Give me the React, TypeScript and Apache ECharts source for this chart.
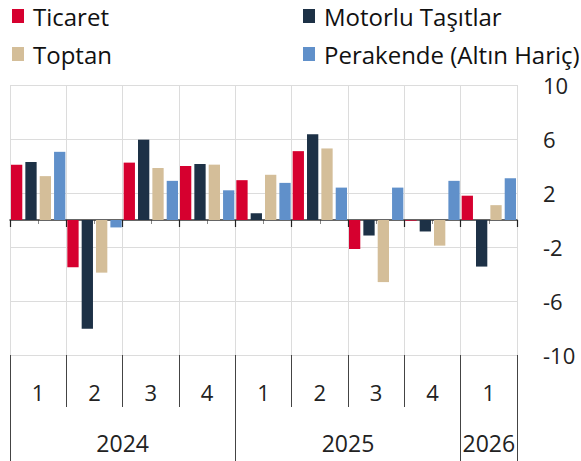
import React, { useEffect, useRef } from "react";
import * as echarts from "echarts";

const quarters = ["1", "2", "3", "4", "1", "2", "3", "4", "1"];
const years = ["2024", "2025", "2026"];
const quartersPerYear = [4, 4, 1];

const ticaret = [4.1, -3.5, 4.25, 4.0, 2.95, 5.1, -2.15, -0.05, 1.8];
const motorlu = [4.3, -8.05, 5.95, 4.15, 0.5, 6.35, -1.15, -0.85, -3.45];
const toptan = [3.25, -3.9, 3.85, 4.1, 3.35, 5.3, -4.6, -1.9, 1.1];
const perakende = [5.05, -0.55, 2.9, 2.2, 2.75, 2.4, 2.4, 2.9, 3.1];

const seriesNames = ["Ticaret", "Motorlu Taşıtlar", "Toptan", "Perakende (Altın Hariç)"];
const seriesColors = ["#D6002F", "#1D3146", "#D4BE99", "#6090CA"];

export default function App() {
  const ref = useRef<HTMLDivElement>(null);
  useEffect(() => {
    if (!ref.current) return;
    const chart = echarts.init(ref.current, null, { renderer: "svg" });

    const yearBounds: number[] = [0];
    const yearCenters: number[] = [];
    let acc = 0;
    quartersPerYear.forEach((n) => {
      yearCenters.push(acc + n / 2);
      acc += n;
      yearBounds.push(acc);
    });

    const halfCats = Array.from({ length: quarters.length * 2 }, (_, i) => "h" + i);
    const font = "Open Sans";
    const dataSets = [ticaret, motorlu, toptan, perakende];

    const legendText = { fontSize: 24, lineHeight: 22, color: "#111", fontFamily: font, padding: [0, 0, 0, 4] };

    chart.setOption({
      animation: false,
      textStyle: { fontFamily: font },
      legend: [
        {
          data: [seriesNames[0], seriesNames[2]],
          orient: "vertical",
          left: 12,
          top: 4,
          padding: 0,
          icon: "rect",
          itemWidth: 12,
          itemHeight: 14,
          itemGap: 14,
          textStyle: legendText,
        },
        {
          data: [seriesNames[1], seriesNames[3]],
          orient: "vertical",
          left: 303,
          top: 4,
          padding: 0,
          icon: "rect",
          itemWidth: 12,
          itemHeight: 14,
          itemGap: 14,
          textStyle: legendText,
        },
      ],
      grid: { left: 10, right: 64, top: 85, bottom: 106, containLabel: false, outerBoundsMode: "none" },
      xAxis: [
        {
          type: "category",
          data: quarters,
          position: "bottom",
          axisLine: { show: true, onZero: true, lineStyle: { color: "#333", width: 1.5 } },
          axisTick: { show: true, length: 7, lineStyle: { color: "#222", width: 1.2 } },
          axisLabel: { show: false },
          splitLine: { show: true, lineStyle: { color: "#dcdcdc", width: 1 } },
          z: 1,
        },
        {
          type: "category",
          data: halfCats,
          position: "bottom",
          axisLine: { show: false, onZero: true, onZeroAxisIndex: 0 },
          axisTick: {
            show: true,
            length: 4,
            interval: (i: number) => i % 2 === 1,
            lineStyle: { color: "#888", width: 1 },
          },
          axisLabel: { show: false },
          splitLine: { show: false },
        },
        {
          type: "category",
          data: quarters,
          position: "bottom",
          axisLine: { show: false, onZero: false },
          axisTick: { show: true, length: 52, lineStyle: { color: "#444", width: 1 } },
          axisLabel: { show: true, fontSize: 22, color: "#222", margin: 26, fontFamily: font },
          splitLine: { show: false },
        },
        {
          type: "value",
          min: 0,
          max: quarters.length,
          position: "bottom",
          axisLine: { show: false, onZero: false },
          axisTick: { show: true, length: 106, customValues: yearBounds, lineStyle: { color: "#444", width: 1 } },
          axisLabel: {
            show: true,
            fontSize: 23,
            color: "#222",
            margin: 76,
            fontFamily: font,
            customValues: yearCenters,
            formatter: (v: number) => {
              const idx = yearCenters.findIndex((c) => Math.abs(c - v) < 1e-6);
              return idx >= 0 ? years[idx] : "";
            },
          },
          splitLine: { show: false },
        },
      ],
      yAxis: {
        type: "value",
        position: "right",
        min: -10,
        max: 10,
        interval: 4,
        axisLine: { show: false },
        axisTick: { show: false },
        axisLabel: { fontSize: 22, lineHeight: 18, color: "#222", margin: 26, fontFamily: font },
        splitLine: { show: true, lineStyle: { color: "#dcdcdc", width: 1 } },
      },
      series: dataSets.map((d, i) => ({
        name: seriesNames[i],
        type: "bar",
        xAxisIndex: 0,
        data: d,
        barWidth: 11.3,
        barGap: "27%",
        itemStyle: { color: seriesColors[i] },
        z: 2,
      })),
    });
    return () => chart.dispose();
  }, []);
  return (
    <div
      ref={ref}
      style={{ position: "absolute", left: 0, top: 0, width: 581, height: 461, background: "#fff" }}
    />
  );
}
